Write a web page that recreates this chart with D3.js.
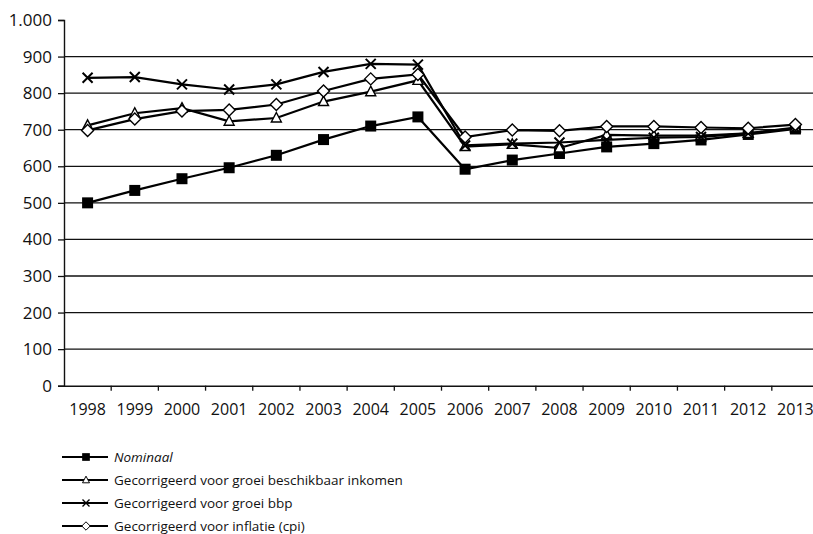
<!DOCTYPE html>
<html>
<head>
<meta charset="utf-8">
<style>
body { margin: 0; background: #fff; }
svg { display: block; font-family: "Open Sans", sans-serif; }
</style>
</head>
<body>
<svg width="813" height="534"></svg>
<script src="https://cdn.jsdelivr.net/npm/d3@7"></script>
<script>

var years = ["1998","1999","2000","2001","2002","2003","2004","2005","2006","2007","2008","2009","2010","2011","2012","2013"];

var nominaal = [500, 534, 566, 596, 630, 673, 710, 735, 592, 617, 635, 653, 662, 672, 687, 702];
var inkomen  = [712, 745, 759, 723, 732, 777, 804, 835, 654, 660, 650, 686, 684, 684, 690, 706];
var bbp      = [842, 844, 824, 810, 824, 858, 880, 878, 657, 662, 665, 672, 678, 680, 690, 704];
var inflatie = [698, 729, 751, 754, 769, 806, 839, 851, 680, 699, 697, 709, 709, 706, 704, 714];

var yTicks = [0, 100, 200, 300, 400, 500, 600, 700, 800, 900, 1000];

var seriesNames = [
  "Nominaal",
  "Gecorrigeerd voor groei beschikbaar inkomen",
  "Gecorrigeerd voor groei bbp",
  "Gecorrigeerd voor inflatie (cpi)"
];

var series = [
  {name: seriesNames[0], values: nominaal, symbol: "square", italic: true},
  {name: seriesNames[1], values: inkomen, symbol: "triangle"},
  {name: seriesNames[2], values: bbp, symbol: "cross"},
  {name: seriesNames[3], values: inflatie, symbol: "diamond"}
];

var svg = d3.select("svg"),
    plotLeft = 64, plotRight = 819, plotTop = 20, plotBottom = 385.7;

var nl = d3.formatLocale({decimal: ",", thousands: ".", grouping: [3], currency: ["€", ""]});

var x = d3.scaleBand().domain(years).range([plotLeft, plotRight]);
var y = d3.scaleLinear().domain([0, 1000]).range([plotBottom, plotTop]);

// gridlines
svg.append("g")
  .selectAll("line")
  .data(yTicks.filter(function(d) { return d > 0 && d < 1000; }))
  .enter().append("line")
    .attr("x1", plotLeft).attr("x2", 813)
    .attr("y1", function(d) { return y(d); })
    .attr("y2", function(d) { return y(d); })
    .attr("stroke", "#111")
    .attr("stroke-width", 1.3);

// y axis
var yAxis = svg.append("g")
    .attr("transform", "translate(" + plotLeft + ",0)")
    .call(d3.axisLeft(y).tickValues(yTicks).tickSize(6).tickPadding(6).tickFormat(nl.format(",d")));
yAxis.select(".domain").attr("stroke", "#111").attr("stroke-width", 1.4);
yAxis.selectAll(".tick line").attr("stroke", "#111").attr("stroke-width", 1.3);
yAxis.selectAll("text").attr("font-size", 17).attr("fill", "#111").attr("font-family", "Open Sans");

// x axis
var xAxis = svg.append("g")
    .attr("transform", "translate(0," + plotBottom + ")")
    .call(d3.axisBottom(x).tickSize(0).tickPadding(18));
xAxis.select(".domain").attr("stroke", "#111").attr("stroke-width", 1.4);
xAxis.selectAll("text").attr("font-size", 16).attr("fill", "#111").attr("font-family", "Open Sans");

// tick marks between categories
svg.append("g")
  .selectAll("line")
  .data(years)
  .enter().append("line")
    .attr("x1", function(d) { return x(d) + x.bandwidth(); })
    .attr("x2", function(d) { return x(d) + x.bandwidth(); })
    .attr("y1", plotBottom).attr("y2", plotBottom + 5)
    .attr("stroke", "#111")
    .attr("stroke-width", 1.3);

function cx(i) { return x(years[i]) + x.bandwidth() / 2; }

function drawMarker(g, type, px, py) {
  if (type == "square") {
    g.append("rect").attr("x", px - 5.5).attr("y", py - 5.5).attr("width", 11).attr("height", 11).attr("fill", "#000");
  } else if (type == "triangle") {
    g.append("path").attr("d", "M" + px + "," + (py - 5.5) + "L" + (px + 5) + "," + (py + 4) + "L" + (px - 5) + "," + (py + 4) + "Z")
      .attr("fill", "#fff").attr("stroke", "#000").attr("stroke-width", 1.4);
  } else if (type == "cross") {
    g.append("path").attr("d", "M" + (px - 5) + "," + (py - 5) + "L" + (px + 5) + "," + (py + 5) + "M" + (px + 5) + "," + (py - 5) + "L" + (px - 5) + "," + (py + 5))
      .attr("stroke", "#000").attr("stroke-width", 2).attr("fill", "none");
  } else {
    g.append("path").attr("d", "M" + px + "," + (py - 6) + "L" + (px + 6) + "," + py + "L" + px + "," + (py + 6) + "L" + (px - 6) + "," + py + "Z")
      .attr("fill", "#fff").attr("stroke", "#000").attr("stroke-width", 1.4);
  }
}

var line = d3.line()
    .x(function(d, i) { return cx(i); })
    .y(function(d) { return y(d); });

series.forEach(function(s) {
  var g = svg.append("g");
  g.append("path")
    .attr("d", line(s.values))
    .attr("fill", "none")
    .attr("stroke", "#000")
    .attr("stroke-width", 2.2);
  s.values.forEach(function(v, i) { drawMarker(g, s.symbol, cx(i), y(v)); });
});

// legend
var legend = svg.append("g")
  .selectAll("g")
  .data(series)
  .enter().append("g")
    .attr("transform", function(d, i) { return "translate(0," + (457 + i * 23) + ")"; });

legend.append("line")
  .attr("x1", 62).attr("x2", 108).attr("y1", 0).attr("y2", 0)
  .attr("stroke", "#000").attr("stroke-width", 2);

legend.each(function(d) {
  var m = d3.select(this).append("g");
  drawMarker(m, d.symbol, 86, 0);
  m.selectAll("*").attr("transform", "translate(86,0) scale(0.7) translate(-86,0)");
});

legend.append("text")
  .attr("x", 114)
  .attr("y", 0)
  .attr("dy", "0.35em")
  .attr("font-size", 13.5)
  .attr("font-style", function(d) { return d.italic ? "italic" : "normal"; })
  .attr("fill", "#111")
  .text(function(d) { return d.name; });

</script>
</body>
</html>
